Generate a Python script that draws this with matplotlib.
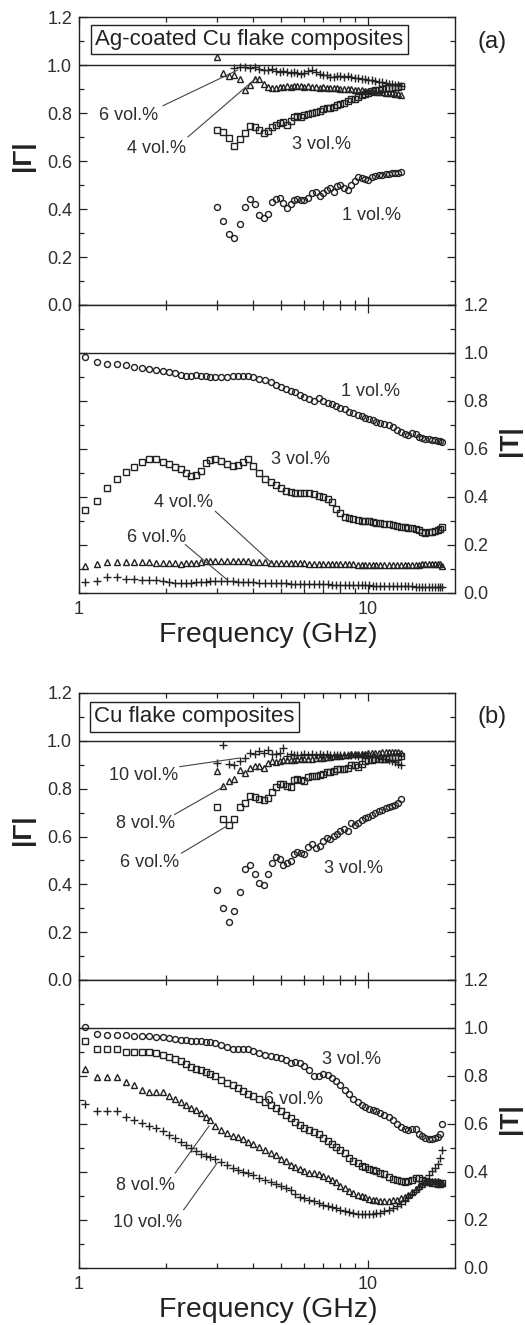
import matplotlib
matplotlib.use("Agg")
import matplotlib.pyplot as plt
from matplotlib.ticker import FormatStrFormatter

plt.rcParams['font.family'] = ['Liberation Sans', 'DejaVu Sans']

# ---------------------------------------------------------------
# frequency grids (GHz): |Gamma| data (upper plots), |T| data (lower plots)
freq_gamma = [3.0, 3.15, 3.3, 3.45, 3.6, 3.75, 3.9, 4.05, 4.2, 4.35, 4.5, 4.65, 4.8, 4.95,
              5.1, 5.25, 5.4, 5.55, 5.7, 5.85, 6.0, 6.2, 6.4, 6.6, 6.8, 7.0, 7.2, 7.4, 7.6,
              7.8, 8.0, 8.25, 8.5, 8.75, 9.0, 9.25, 9.5, 9.75, 10.0, 10.3, 10.6, 10.9, 11.2,
              11.5, 11.8, 12.1, 12.4, 12.7, 13.0]
freq_t = [1.05, 1.15, 1.25, 1.35, 1.45, 1.55, 1.65, 1.75, 1.85, 1.95, 2.05, 2.15, 2.25, 2.35,
          2.45, 2.55, 2.65, 2.75, 2.85, 2.95, 3.1, 3.25, 3.4, 3.55, 3.7, 3.85, 4.0, 4.2, 4.4,
          4.6, 4.8, 5.0, 5.2, 5.4, 5.6, 5.8, 6.0, 6.25, 6.5, 6.75, 7.0, 7.25, 7.5, 7.75, 8.0,
          8.3, 8.6, 8.9, 9.2, 9.5, 9.8, 10.1, 10.4, 10.7, 11.0, 11.4, 11.8, 12.2, 12.6, 13.0,
          13.4, 13.8, 14.2, 14.6, 15.0, 15.4, 15.8, 16.2, 16.6, 17.0, 17.4, 17.8, 18.05]

# ---------------------------------------------------------------
# (a) Ag-coated Cu flake composites, |Gamma|
a_gamma_1 = [0.41, 0.352, 0.295, 0.278, 0.337, 0.408, 0.44, 0.422, 0.375, 0.362, 0.38, 0.43,
             0.442, 0.444, 0.425, 0.405, 0.42, 0.436, 0.442, 0.438, 0.436, 0.446, 0.465, 0.472,
             0.455, 0.465, 0.478, 0.486, 0.472, 0.495, 0.498, 0.487, 0.48, 0.5, 0.515, 0.532,
             0.53, 0.524, 0.522, 0.535, 0.536, 0.54, 0.542, 0.544, 0.546, 0.549, 0.549, 0.55, 0.553]
a_gamma_3 = [0.729, 0.719, 0.695, 0.664, 0.69, 0.718, 0.744, 0.741, 0.728, 0.716, 0.727, 0.74,
             0.75, 0.758, 0.762, 0.752, 0.766, 0.782, 0.786, 0.785, 0.79, 0.797, 0.8, 0.803,
             0.808, 0.818, 0.821, 0.822, 0.824, 0.835, 0.836, 0.84, 0.848, 0.858, 0.858, 0.867,
             0.873, 0.879, 0.884, 0.89, 0.894, 0.897, 0.901, 0.903, 0.905, 0.906, 0.908, 0.91, 0.912]
a_gamma_4 = [1.032, 0.965, 0.955, 0.957, 0.94, 0.897, 0.915, 0.94, 0.942, 0.92, 0.91, 0.906,
             0.905, 0.907, 0.91, 0.912, 0.91, 0.911, 0.912, 0.911, 0.91, 0.912, 0.91, 0.908,
             0.905, 0.907, 0.905, 0.904, 0.906, 0.903, 0.902, 0.9, 0.899, 0.898, 0.896, 0.895,
             0.894, 0.893, 0.892, 0.89, 0.889, 0.888, 0.886, 0.885, 0.884, 0.882, 0.88, 0.878, 0.876]
a_gamma_6 = [None, None, None, 0.986, 0.993, 0.99, 0.986, 0.99, 0.984, 0.98, 0.978, 0.982,
             0.976, 0.972, 0.975, 0.97, 0.968, 0.972, 0.966, 0.962, 0.966, 0.975, 0.978, 0.972,
             0.962, 0.958, 0.96, 0.952, 0.95, 0.955, 0.953, 0.95, 0.955, 0.948, 0.945, 0.944,
             0.94, 0.942, 0.938, 0.936, 0.933, 0.93, 0.928, 0.925, 0.922, 0.92, 0.918, 0.915, 0.912]

# (a) Ag-coated Cu flake composites, |T|
a_t_1 = [0.985, 0.961, 0.954, 0.954, 0.95, 0.943, 0.937, 0.933, 0.93, 0.926, 0.92, 0.916, 0.91,
         0.906, 0.905, 0.908, 0.906, 0.905, 0.9, 0.898, 0.898, 0.898, 0.903, 0.905, 0.905, 0.903,
         0.9, 0.893, 0.888, 0.878, 0.868, 0.858, 0.85, 0.842, 0.836, 0.826, 0.818, 0.808, 0.802,
         0.812, 0.8, 0.793, 0.786, 0.778, 0.772, 0.765, 0.756, 0.748, 0.742, 0.738, 0.73, 0.724,
         0.72, 0.714, 0.71, 0.704, 0.7, 0.692, 0.68, 0.67, 0.662, 0.66, 0.668, 0.662, 0.65,
         0.646, 0.643, 0.64, 0.638, 0.636, 0.634, 0.632, 0.628]
a_t_3 = [0.344, 0.383, 0.436, 0.475, 0.504, 0.525, 0.547, 0.557, 0.557, 0.547, 0.539, 0.526,
         0.515, 0.5, 0.488, 0.49, 0.51, 0.54, 0.556, 0.557, 0.548, 0.536, 0.529, 0.532, 0.545,
         0.557, 0.53, 0.498, 0.476, 0.464, 0.452, 0.437, 0.424, 0.419, 0.418, 0.418, 0.418,
         0.416, 0.413, 0.405, 0.4, 0.39, 0.378, 0.35, 0.332, 0.318, 0.311, 0.307, 0.304, 0.302,
         0.3, 0.299, 0.296, 0.293, 0.291, 0.289, 0.286, 0.283, 0.28, 0.277, 0.274, 0.272, 0.27,
         0.268, 0.262, 0.256, 0.252, 0.253, 0.256, 0.258, 0.262, 0.265, 0.274]
a_t_4 = [0.111, 0.121, 0.13, 0.13, 0.13, 0.13, 0.129, 0.128, 0.127, 0.126, 0.124, 0.123, 0.122,
         0.123, 0.125, 0.127, 0.13, 0.132, 0.133, 0.134, 0.134, 0.134, 0.134, 0.133, 0.133,
         0.132, 0.131, 0.13, 0.128, 0.127, 0.126, 0.125, 0.125, 0.124, 0.124, 0.123, 0.123,
         0.122, 0.122, 0.122, 0.121, 0.122, 0.121, 0.12, 0.122, 0.121, 0.12, 0.119, 0.118,
         0.118, 0.117, 0.117, 0.116, 0.116, 0.116, 0.115, 0.115, 0.116, 0.116, 0.117, 0.117,
         0.116, 0.116, 0.117, 0.118, 0.119, 0.12, 0.121, 0.122, 0.122, 0.121, 0.12, 0.112]
a_t_6 = [0.046, 0.052, 0.067, 0.067, 0.057, 0.057, 0.056, 0.056, 0.055, 0.05, 0.046, 0.043,
         0.042, 0.042, 0.043, 0.045, 0.046, 0.047, 0.048, 0.049, 0.049, 0.049, 0.048, 0.047,
         0.046, 0.045, 0.044, 0.043, 0.042, 0.041, 0.041, 0.04, 0.04, 0.039, 0.039, 0.038,
         0.038, 0.037, 0.037, 0.036, 0.036, 0.036, 0.035, 0.035, 0.035, 0.034, 0.034, 0.033,
         0.033, 0.033, 0.032, 0.032, 0.031, 0.031, 0.03, 0.03, 0.03, 0.029, 0.029, 0.029, 0.028,
         0.028, 0.028, 0.027, 0.026, 0.025, 0.024, 0.023, 0.023, 0.023, 0.024, 0.024, 0.025]

# ---------------------------------------------------------------
# (b) Cu flake composites, |Gamma|
b_gamma_3 = [0.375, 0.3, 0.243, 0.29, 0.37, 0.465, 0.482, 0.445, 0.405, 0.399, 0.445, 0.49,
             0.513, 0.506, 0.48, 0.49, 0.497, 0.527, 0.536, 0.532, 0.526, 0.558, 0.569, 0.554,
             0.562, 0.58, 0.592, 0.588, 0.603, 0.612, 0.622, 0.632, 0.625, 0.656, 0.65, 0.657,
             0.67, 0.677, 0.683, 0.69, 0.699, 0.705, 0.71, 0.72, 0.725, 0.729, 0.733, 0.738, 0.758]
b_gamma_6 = [0.722, 0.675, 0.648, 0.672, 0.725, 0.742, 0.768, 0.766, 0.758, 0.751, 0.762, 0.788,
             0.806, 0.818, 0.818, 0.811, 0.806, 0.838, 0.84, 0.836, 0.834, 0.847, 0.854, 0.851,
             0.856, 0.862, 0.868, 0.871, 0.873, 0.881, 0.884, 0.884, 0.888, 0.898, 0.9, 0.89,
             0.903, 0.915, 0.918, 0.921, 0.923, 0.924, 0.925, 0.926, 0.928, 0.93, 0.932, 0.934, 0.936]
b_gamma_8 = [0.875, 0.81, 0.832, 0.84, 0.88, 0.865, 0.888, 0.895, 0.893, 0.886, 0.906, 0.916,
             0.912, 0.915, 0.918, 0.918, 0.92, 0.921, 0.922, 0.923, 0.924, 0.925, 0.926, 0.928,
             0.929, 0.93, 0.932, 0.934, 0.936, 0.937, 0.938, 0.94, 0.941, 0.943, 0.944, 0.945,
             0.946, 0.947, 0.948, 0.949, 0.95, 0.951, 0.952, 0.953, 0.954, 0.954, 0.953, 0.952, 0.951]
b_gamma_10 = [0.908, 0.984, 0.904, 0.9, 0.915, 0.93, 0.948, 0.945, 0.957, 0.95, 0.962, 0.945,
              0.944, 0.95, 0.972, 0.938, 0.944, 0.94, 0.942, 0.94, 0.944, 0.942, 0.945, 0.94,
              0.943, 0.941, 0.944, 0.94, 0.942, 0.94, 0.942, 0.94, 0.941, 0.939, 0.94, 0.938,
              0.939, 0.937, 0.936, 0.934, 0.932, 0.928, 0.925, 0.922, 0.918, 0.914, 0.91, 0.905, 0.9]

# (b) Cu flake composites, |T|
b_t_3 = [1.003, 0.975, 0.971, 0.971, 0.971, 0.968, 0.967, 0.967, 0.964, 0.962, 0.958, 0.955,
         0.952, 0.948, 0.944, 0.945, 0.946, 0.943, 0.94, 0.936, 0.93, 0.92, 0.911, 0.911, 0.914,
         0.912, 0.906, 0.894, 0.888, 0.884, 0.881, 0.875, 0.866, 0.855, 0.857, 0.855, 0.843,
         0.826, 0.802, 0.8, 0.81, 0.803, 0.79, 0.78, 0.762, 0.742, 0.724, 0.705, 0.69, 0.679,
         0.67, 0.664, 0.659, 0.654, 0.647, 0.638, 0.628, 0.616, 0.602, 0.589, 0.58, 0.576, 0.58,
         0.578, 0.56, 0.548, 0.54, 0.537, 0.538, 0.54, 0.545, 0.558, 0.598]
b_t_6 = [0.947, 0.911, 0.911, 0.911, 0.901, 0.901, 0.899, 0.899, 0.894, 0.888, 0.881, 0.871,
         0.862, 0.85, 0.839, 0.83, 0.823, 0.815, 0.807, 0.798, 0.785, 0.772, 0.761, 0.75, 0.739,
         0.726, 0.715, 0.704, 0.693, 0.68, 0.667, 0.653, 0.637, 0.623, 0.609, 0.595, 0.584,
         0.574, 0.566, 0.56, 0.543, 0.531, 0.517, 0.505, 0.493, 0.478, 0.46, 0.447, 0.437, 0.427,
         0.42, 0.414, 0.409, 0.403, 0.397, 0.392, 0.378, 0.372, 0.368, 0.364, 0.36, 0.362, 0.368,
         0.377, 0.374, 0.367, 0.362, 0.358, 0.355, 0.353, 0.351, 0.35, 0.353]
b_t_8 = [0.828, 0.795, 0.794, 0.794, 0.776, 0.762, 0.743, 0.735, 0.735, 0.735, 0.717, 0.704,
         0.692, 0.678, 0.666, 0.657, 0.644, 0.631, 0.617, 0.591, 0.577, 0.564, 0.552, 0.544,
         0.538, 0.527, 0.516, 0.505, 0.492, 0.48, 0.469, 0.455, 0.444, 0.431, 0.422, 0.412,
         0.404, 0.397, 0.397, 0.392, 0.384, 0.375, 0.366, 0.357, 0.343, 0.332, 0.322, 0.313,
         0.306, 0.3, 0.294, 0.289, 0.285, 0.283, 0.281, 0.281, 0.281, 0.282, 0.285, 0.29, 0.297,
         0.306, 0.317, 0.328, 0.34, 0.35, 0.357, 0.361, 0.362, 0.362, 0.361, 0.36, 0.355]
b_t_10 = [0.683, 0.656, 0.656, 0.656, 0.631, 0.617, 0.603, 0.592, 0.583, 0.569, 0.556, 0.543,
          0.527, 0.512, 0.498, 0.486, 0.476, 0.468, 0.463, 0.453, 0.441, 0.43, 0.418, 0.407,
          0.4, 0.394, 0.387, 0.377, 0.368, 0.36, 0.352, 0.343, 0.333, 0.323, 0.308, 0.297, 0.29,
          0.284, 0.279, 0.272, 0.262, 0.258, 0.253, 0.249, 0.243, 0.237, 0.232, 0.229, 0.227,
          0.225, 0.225, 0.225, 0.226, 0.228, 0.231, 0.236, 0.241, 0.249, 0.258, 0.268, 0.281,
          0.295, 0.31, 0.323, 0.336, 0.352, 0.368, 0.388, 0.404, 0.418, 0.435, 0.46, 0.49]

# ---------------------------------------------------------------
ink = '#222222'
fig = plt.figure(figsize=(5.25, 13.25), dpi=100)

def style_axes(ax, upper):
    ax.set_xscale('log')
    ax.set_xlim(1, 20)
    ax.set_ylim(0, 1.2)
    ax.set_xticks([1, 10])
    ax.set_xticks([2, 3, 4, 5, 6, 7, 8, 9], minor=True)
    ax.set_xticklabels(['1', '10'])
    ax.set_xticklabels([], minor=True)
    ax.set_yticks([0.0, 0.2, 0.4, 0.6, 0.8, 1.0, 1.2])
    ax.set_yticks([0.1, 0.3, 0.5, 0.7, 0.9, 1.1], minor=True)
    ax.yaxis.set_major_formatter(FormatStrFormatter('%.1f'))
    ax.tick_params(which='both', direction='in', top=True, bottom=True, left=True, right=True,
                   color=ink, width=0.9, labelsize=13, labelcolor='#2e2e2e')
    ax.tick_params(which='major', length=5.5, pad=5)
    ax.tick_params(which='minor', length=3.5)
    if upper:
        ax.tick_params(labelbottom=False, labelleft=True, labelright=False)
    else:
        ax.tick_params(labelbottom=True, labelleft=False, labelright=True, pad=6)
    for sp in ax.spines.values():
        sp.set_linewidth(1.0)
        sp.set_color(ink)
    ax.axhline(1.0, color=ink, lw=1.0, zorder=1)

def scatter(ax, x, y, marker):
    if marker == '+':
        ax.plot(x, y, ls='none', marker='+', ms=5.5, mew=1.0, color=ink, zorder=3)
    else:
        ax.plot(x, y, ls='none', marker=marker, ms=4.3, mfc='none', mew=1.0, mec=ink, zorder=3)

def label(ax, txt, xy, line=None):
    ax.text(xy[0], xy[1], txt, ha='center', va='center', fontsize=13, color='#2e2e2e', zorder=5)
    if line is not None:
        ax.annotate('', xy=line[1], xytext=line[0],
                    arrowprops=dict(arrowstyle='-', lw=0.8, color='#444444',
                                    shrinkA=0, shrinkB=0))

left, width = 79 / 525, 376 / 525
ax_a1 = fig.add_axes([left, 1 - 305 / 1325, width, 288 / 1325])
ax_a2 = fig.add_axes([left, 1 - 593 / 1325, width, 288 / 1325])
ax_b1 = fig.add_axes([left, 1 - 980 / 1325, width, 287 / 1325])
ax_b2 = fig.add_axes([left, 1 - 1268 / 1325, width, 288 / 1325])

for ax, up in [(ax_a1, True), (ax_a2, False), (ax_b1, True), (ax_b2, False)]:
    style_axes(ax, up)

# (a) |Gamma|
scatter(ax_a1, freq_gamma, a_gamma_1, 'o')
scatter(ax_a1, freq_gamma, a_gamma_3, 's')
scatter(ax_a1, freq_gamma, a_gamma_4, '^')
scatter(ax_a1, [f for f, v in zip(freq_gamma, a_gamma_6) if v is not None],
        [v for v in a_gamma_6 if v is not None], '+')
label(ax_a1, '6 vol.%', (1.49, 0.79), ((1.95, 0.83), (3.54, 0.979)))
label(ax_a1, '4 vol.%', (1.86, 0.654), ((2.38, 0.70), (4.11, 0.946)))
label(ax_a1, '3 vol.%', (6.88, 0.667))
label(ax_a1, '1 vol.%', (10.3, 0.375))
ax_a1.text(0.453, 0.922, 'Ag-coated Cu flake composites', transform=ax_a1.transAxes,
           ha='center', va='center', fontsize=16, color='#222222', zorder=6,
           bbox=dict(boxstyle='square,pad=0.2', fc='white', ec=ink, lw=1.0))

# (a) |T|
scatter(ax_a2, freq_t, a_t_1, 'o')
scatter(ax_a2, freq_t, a_t_3, 's')
scatter(ax_a2, freq_t, a_t_4, '^')
scatter(ax_a2, freq_t, a_t_6, '+')
label(ax_a2, '1 vol.%', (10.2, 0.84))
label(ax_a2, '3 vol.%', (5.86, 0.557))
label(ax_a2, '4 vol.%', (2.30, 0.376), ((2.96, 0.341), (4.64, 0.125)))
label(ax_a2, '6 vol.%', (1.85, 0.232), ((2.33, 0.202), (3.25, 0.056)))

# (b) |Gamma|
scatter(ax_b1, freq_gamma, b_gamma_3, 'o')
scatter(ax_b1, freq_gamma, b_gamma_6, 's')
scatter(ax_b1, freq_gamma, b_gamma_8, '^')
scatter(ax_b1, freq_gamma, b_gamma_10, '+')
label(ax_b1, '10 vol.%', (1.667, 0.854), ((2.23, 0.892), (3.59, 0.928)))
label(ax_b1, '8 vol.%', (1.70, 0.653), ((2.14, 0.692), (3.16, 0.808)))
label(ax_b1, '6 vol.%', (1.76, 0.493), ((2.26, 0.53), (3.23, 0.642)))
label(ax_b1, '3 vol.%', (8.94, 0.465))
ax_b1.text(0.307, 0.917, 'Cu flake composites', transform=ax_b1.transAxes,
           ha='center', va='center', fontsize=16, color='#222222', zorder=6,
           bbox=dict(boxstyle='square,pad=0.2', fc='white', ec=ink, lw=1.0))

# (b) |T|
scatter(ax_b2, freq_t, b_t_3, 'o')
scatter(ax_b2, freq_t, b_t_6, 's')
scatter(ax_b2, freq_t, b_t_8, '^')
scatter(ax_b2, freq_t, b_t_10, '+')
label(ax_b2, '3 vol.%', (8.76, 0.867))
label(ax_b2, '6 vol.%', (5.51, 0.70))
label(ax_b2, '8 vol.%', (1.70, 0.343), ((2.15, 0.395), (2.82, 0.592)))
label(ax_b2, '10 vol.%', (1.72, 0.189), ((2.30, 0.242), (3.0, 0.436)))

# axis titles and panel letters
for yc in [156, 830]:
    fig.text(23 / 525, 1 - yc / 1325, '|\u0393|', rotation=90, ha='center', va='center',
             fontsize=19, fontweight='bold', color='#222222')
for yc in [441, 1119]:
    fig.text(510 / 525, 1 - yc / 1325, '|T|', rotation=90, ha='center', va='center',
             fontsize=19, fontweight='bold', color='#222222')
for yc in [635, 1310]:
    fig.text(268 / 525, 1 - yc / 1325, 'Frequency (GHz)', ha='center', va='center',
             fontsize=20.5, color='#222222')
fig.text(492 / 525, 1 - 42 / 1325, '(a)', ha='center', va='center', fontsize=17, color='#222222')
fig.text(492 / 525, 1 - 717 / 1325, '(b)', ha='center', va='center', fontsize=17, color='#222222')

fig.savefig('out.png', dpi=100)
